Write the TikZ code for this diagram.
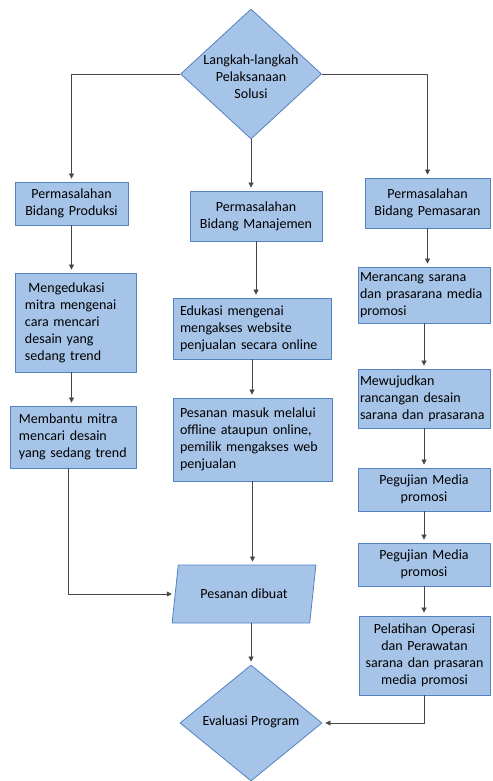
\documentclass[tikz,border=0pt]{standalone}
\usepackage{fontspec}
\setmainfont{Carlito}
\usetikzlibrary{shapes.geometric,arrows.meta}
\definecolor{boxfill}{RGB}{166,195,232}
\definecolor{boxline}{RGB}{84,130,192}
\definecolor{linkgray}{RGB}{70,70,70}
\newcommand{\flowfont}{\fontsize{14bp}{17bp}\selectfont}
\tikzset{
  proc/.style={rectangle, draw=boxline, fill=boxfill, line width=0.8bp, inner xsep=4bp, inner ysep=2bp, font=\flowfont},
  decision/.style={diamond, draw=boxline, fill=boxfill, line width=0.8bp, inner sep=0pt},
  datain/.style={trapezium, trapezium left angle=75, trapezium right angle=105, trapezium stretches=true, draw=boxline, fill=boxfill, line width=0.8bp, font=\flowfont},
  link/.style={draw=linkgray, line width=0.7bp, ->, shorten >=3bp}
}
\begin{document}
\begin{tikzpicture}[x=1bp, y=-1bp, >={Triangle[length=5bp,width=5bp]}, line join=round]
\useasboundingbox (0,0) rectangle (493,781);
% top decision
\node[decision, minimum width=141bp, minimum height=130bp] (langkah) at (251,74) {};
\node[font=\flowfont, align=center] (langkahtext) at (251,77) {Langkah-langkah\\Pelaksanaan\\Solusi};
% left column
\node[proc, text width=105bp, minimum height=43bp, align=center] (prod) at (71.5,203.5) {Permasalahan\\Bidang Produksi};
\node[proc, inner xsep=10bp, text width=101bp, minimum height=99bp, align=left] (edukasi) at (75.5,322.5) {\hspace*{0.25em}Mengedukasi\\mitra mengenai\\cara mencari\\desain yang\\sedang trend};
\node[proc, inner xsep=9bp, text width=108bp, minimum height=62bp, align=left] (bantu) at (73,437) {Membantu mitra\\mencari desain\\yang sedang trend};
% middle column
\node[proc, text width=124bp, minimum height=50bp, align=center] (manaj) at (256,216) {Permasalahan\\Bidang Manajemen};
\node[proc, inner xsep=7bp, text width=144bp, minimum height=61bp, align=left] (website) at (252,328.5) {Edukasi mengenai\\mengakses website\\penjualan secara online};
\node[proc, inner xsep=7bp, text width=145bp, minimum height=83bp, align=left] (masuk) at (252.5,439.5) {Pesanan masuk melalui\\offline ataupun online,\\pemilik mengakses web\\penjualan};
\node[datain, minimum width=144bp, minimum height=58bp] (pesan) at (244,594) {Pesanan dibuat};
% bottom decision
\node[decision, minimum width=142bp, minimum height=116bp] (evaluasi) at (251,723) {};
\node[font=\flowfont] (evaluasitext) at (251,722) {Evaluasi Program};
% right column
\node[proc, text width=117bp, minimum height=50bp, align=center] (pemas) at (427.5,203) {Permasalahan\\Bidang Pemasaran};
\node[proc, inner xsep=2bp, text width=128bp, minimum height=56bp, align=left] (rancang) at (424,295) {Merancang sarana\\dan prasarana media\\promosi};
\node[proc, inner xsep=2bp, text width=128bp, minimum height=59bp, align=left] (wujud) at (424,398.5) {Mewujudkan\\rancangan desain\\sarana dan prasarana};
\node[proc, text width=124bp, minimum height=43bp, align=center] (ujisatu) at (424,489.5) {Pegujian Media\\promosi};
\node[proc, text width=124bp, minimum height=43bp, align=center] (ujidua) at (424,564.5) {Pegujian Media\\promosi};
\node[proc, text width=123bp, minimum height=79bp, align=center] (latih) at (424.5,655.5) {Pelatihan Operasi\\dan Perawatan\\sarana dan prasaran\\media promosi};
% connectors
\draw[link] (langkah.west) -| (prod.north);
\draw[link] (langkah.south) -- (langkah.south |- manaj.north);
\draw[link] (langkah.east) -| (pemas.north);
\draw[link] (prod.south) -- (prod.south |- edukasi.north);
\draw[link] (prod.south |- edukasi.south) -- (prod.south |- bantu.north);
\draw[link] ([xshift=-5bp]bantu.south) |- (pesan.west);
\draw[link] (manaj.south) -- (manaj.south |- website.north);
\draw[link] (website.south) -- (website.south |- masuk.north);
\draw[link] (masuk.south) -- (masuk.south |- pesan.north);
\draw[link] (evaluasi.north |- pesan.south) -- (evaluasi.north);
\draw[link] (pemas.south) -- (pemas.south |- rancang.north);
\draw[link] (rancang.south) -- (rancang.south |- wujud.north);
\draw[link] (wujud.south) -- (wujud.south |- ujisatu.north);
\draw[link] (ujisatu.south) -- (ujisatu.south |- ujidua.north);
\draw[link] (ujidua.south) -- (ujidua.south |- latih.north);
\draw[link] (latih.south) |- (evaluasi.east);
\end{tikzpicture}
\end{document}
